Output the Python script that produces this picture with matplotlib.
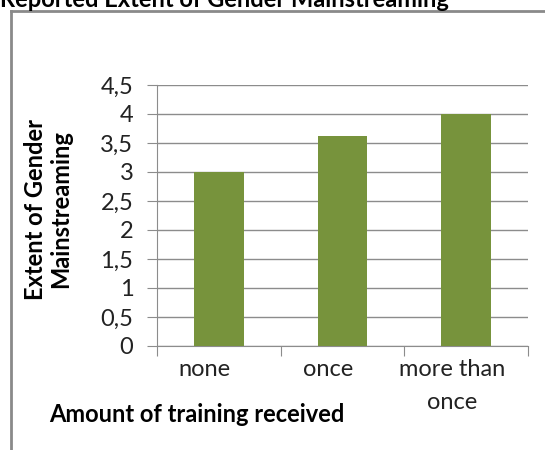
import matplotlib
matplotlib.use('Agg')
import matplotlib.pyplot as plt
import matplotlib.transforms as mtransforms
from matplotlib.lines import Line2D
from matplotlib.ticker import FuncFormatter, MultipleLocator
import numpy as np

# Data
categories = ['none', 'once', 'more than\nonce']
values = [3.0, 3.62, 4.0]

plt.rcParams['font.family'] = ['Lato', 'DejaVu Sans']

fig = plt.figure(figsize=(5.45, 4.5), dpi=100)
ax = fig.add_axes([157 / 545, 1 - 346 / 450, (528 - 157) / 545, (346 - 85) / 450])

x = np.arange(len(categories))
ax.bar(x, values, width=0.4, color='#77933C', zorder=3)

ax.set_xlim(-0.5, len(categories) - 0.5)
ax.set_ylim(0, 4.5)
ax.yaxis.set_major_locator(MultipleLocator(0.5))
ax.yaxis.set_major_formatter(FuncFormatter(lambda v, p: f'{v:g}'.replace('.', ',')))
ax.grid(axis='y', color='#8c8c8c', linewidth=1, zorder=0)

# category boundaries get the tick marks, labels sit in between
ax.set_xticks(np.arange(len(categories) + 1) - 0.5)
ax.set_xticklabels([])
ax.set_xticks(x, minor=True)
ax.set_xticklabels(categories, minor=True, fontsize=17, color='#222222',
                   linespacing=1.75, va='top')
ax.tick_params(axis='x', which='minor', length=0, pad=9)
ax.tick_params(axis='x', which='major', length=7, color='#8c8c8c', direction='out')
ax.tick_params(axis='y', length=7, color='#8c8c8c', labelsize=17, labelcolor='#222222', pad=10)
offset = mtransforms.ScaledTranslation(-14 / 100, 0, fig.dpi_scale_trans)
for lab in ax.get_xticklabels(minor=True):
    lab.set_transform(lab.get_transform() + offset)

for s in ['top', 'right']:
    ax.spines[s].set_visible(False)
for s in ['left', 'bottom']:
    ax.spines[s].set_color('#8c8c8c')

fig.text(48 / 545, 1 - 209 / 450, 'Extent of Gender\nMainstreaming', rotation=90,
         ha='center', va='center', fontsize=17, fontweight='bold', linespacing=1.15)
fig.text(197 / 545, 1 - 414 / 450, 'Amount of training received', ha='center',
         va='center', fontsize=17, fontweight='bold')

fig.text(0.0, 1 - 7 / 450, 'Reported Extent of Gender Mainstreaming', ha='left',
         va='baseline', fontsize=17, fontweight='bold')

# outer chart frame (only left and top edges visible)
fig.add_artist(Line2D([11 / 545, 11 / 545], [0, 1 - 11 / 450], transform=fig.transFigure,
                      color='#8a8a8a', linewidth=2))
fig.add_artist(Line2D([11 / 545, 1], [1 - 11 / 450, 1 - 11 / 450], transform=fig.transFigure,
                      color='#8a8a8a', linewidth=2))

fig.savefig('out.png', dpi=100)
